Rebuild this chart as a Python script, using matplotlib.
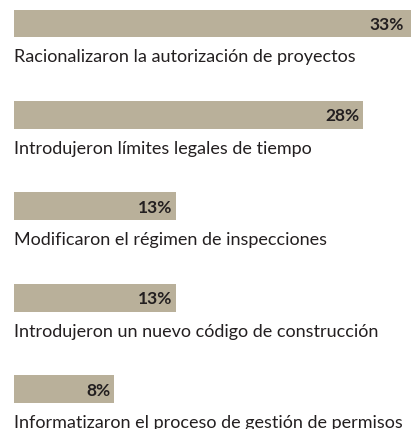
import matplotlib.pyplot as plt

labels = [
    "Racionalizaron la autorización de proyectos",
    "Introdujeron límites legales de tiempo",
    "Modificaron el régimen de inspecciones",
    "Introdujeron un nuevo código de construcción",
    "Informatizaron el proceso de gestión de permisos",
]
values = [33, 28, 13, 13, 8]

bar_color = "#b9b09a"
text_color = "#231f20"

plt.rcParams['font.family'] = ['Lato', 'DejaVu Sans']

fig = plt.figure(figsize=(4.11, 4.29), dpi=100)
ax = fig.add_axes([14 / 411, 0, 1 - 14 / 411, 1])

xmax = 397 / 12.46
ax.set_xlim(0, xmax)
ax.set_ylim(4.437, -0.257)
ax.axis('off')

ypos = list(range(len(values)))
ax.barh(ypos, values, height=0.306, color=bar_color, linewidth=0)

for y, v, lab in zip(ypos, values, labels):
    pad = -5 if v > xmax else -2.5
    ax.annotate(f"{v}%", xy=(min(v, xmax), y), xytext=(pad, 0),
                textcoords='offset points', ha='right', va='center_baseline',
                fontsize=12.5, fontweight='bold', color=text_color)
    ax.text(0, y + 0.425, lab, ha='left', va='baseline',
            fontsize=13, color=text_color)

fig.savefig("out.png", dpi=100)
